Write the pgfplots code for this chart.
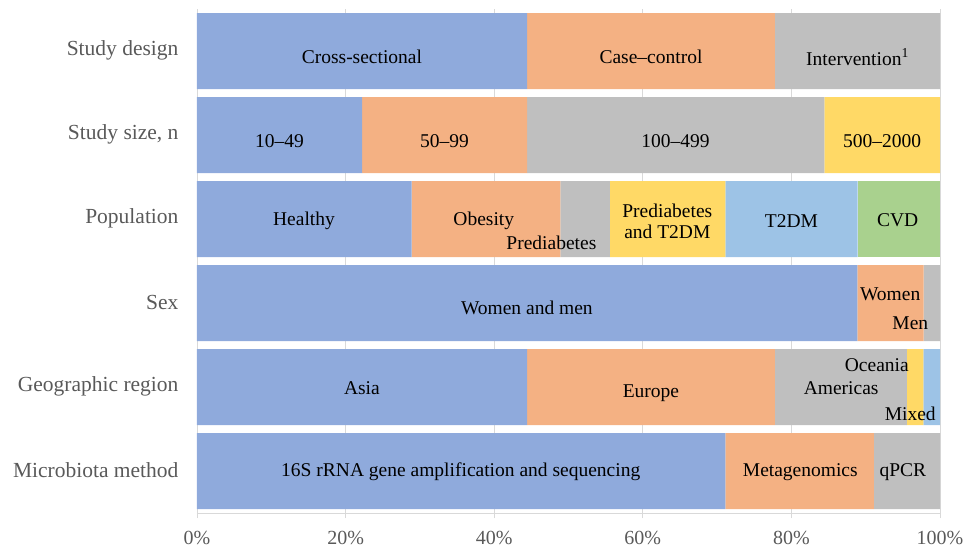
\documentclass[border=0pt]{standalone}
\usepackage{pgfplots}
\pgfplotsset{compat=1.18}
\usepackage{fontspec}
\setmainfont{Liberation Serif}
\definecolor{cBlue}{HTML}{8FAADC}
\definecolor{cOrange}{HTML}{F4B183}
\definecolor{cGray}{HTML}{BFBFBF}
\definecolor{cYellow}{HTML}{FFD966}
\definecolor{cLBlue}{HTML}{9DC3E6}
\definecolor{cGreen}{HTML}{A9D18E}
\definecolor{txtGray}{HTML}{595959}
\definecolor{gridGray}{HTML}{D9D9D9}
\tikzset{lbl/.style={font=\fontsize{19.5}{21}\selectfont, text=black, inner sep=0pt}}
\begin{document}
\begin{tikzpicture}
\begin{axis}[
  scale only axis, width=743pt, height=504pt,
  xbar stacked, bar width=76pt,
  xmin=0, xmax=100, ymin=0.5, ymax=6.5, y dir=reverse,
  ytick={1,2,3,4,5,6},
  yticklabels={Study design,{Study size, n},Population,Sex,Geographic region,Microbiota method},
  xtick={0,20,40,60,80,100},
  /pgf/number format/assume math mode=true,
  xticklabel={\pgfmathprintnumber{\tick}\%},
  axis x line*=bottom, axis y line*=left,
  y axis line style={draw=none},
  x axis line style={draw=gridGray, line width=0.8pt},
  xtick style={draw=gridGray, line width=0.8pt},
  ytick style={draw=none},
  tick align=outside, major tick length=5pt,
  xmajorgrids, grid style={draw=gridGray, line width=0.8pt},
  ticklabel style={text=txtGray},
  yticklabel style={font=\fontsize{21.5}{24}\selectfont, xshift=-10pt, yshift=1pt},
  xticklabel style={font=\fontsize{20}{24}\selectfont, yshift=-10pt},
  clip=false,
  after end axis/.code={
    \node[lbl] at (axis cs:22.2,1.07) {Cross-sectional};
    \node[lbl] at (axis cs:61.1,1.07) {Case--control};
    \node[lbl] at (axis cs:88.9,1.07) {Intervention\textsuperscript{1}};
    \node[lbl] at (axis cs:11.1,2.07) {10--49};
    \node[lbl] at (axis cs:33.3,2.07) {50--99};
    \node[lbl] at (axis cs:64.4,2.07) {100--499};
    \node[lbl] at (axis cs:92.2,2.07) {500--2000};
    \node[lbl] at (axis cs:14.4,3.02) {Healthy};
    \node[lbl] at (axis cs:38.6,3.02) {Obesity};
    \node[lbl] at (axis cs:47.7,3.28) {Prediabetes};
    \node[lbl, align=center] at (axis cs:63.3,3.03) {Prediabetes\\and T2DM};
    \node[lbl] at (axis cs:80.0,3.02) {T2DM};
    \node[lbl] at (axis cs:94.3,3.02) {CVD};
    \node[lbl] at (axis cs:44.4,4.06) {Women and men};
    \node[lbl] at (axis cs:93.3,3.89) {Women};
    \node[lbl] at (axis cs:96.0,4.24) {Men};
    \node[lbl] at (axis cs:22.2,5.01) {Asia};
    \node[lbl] at (axis cs:61.1,5.07) {Europe};
    \node[lbl] at (axis cs:86.7,5.01) {Americas};
    \node[lbl] at (axis cs:91.5,4.74) {Oceania};
    \node[lbl] at (axis cs:96.0,5.32) {Mixed};
    \node[lbl] at (axis cs:35.5,6.01) {16S rRNA gene amplification and sequencing};
    \node[lbl] at (axis cs:81.2,6.01) {Metagenomics};
    \node[lbl] at (axis cs:95.0,6.01) {qPCR};
  },
]
\addplot[fill=cBlue, draw=none] coordinates {(44.44,1) (22.22,2) (28.89,3) (88.89,4) (44.44,5) (71.11,6)};
\addplot[fill=cOrange, draw=none] coordinates {(33.33,1) (22.22,2) (20.00,3) (8.89,4) (33.33,5) (20.00,6)};
\addplot[fill=cGray, draw=none] coordinates {(22.23,1) (40.00,2) (6.67,3) (2.22,4) (17.78,5) (8.89,6)};
\addplot[fill=cYellow, draw=none] coordinates {(0,1) (15.56,2) (15.56,3) (0,4) (2.22,5) (0,6)};
\addplot[fill=cLBlue, draw=none] coordinates {(0,1) (0,2) (17.78,3) (0,4) (2.23,5) (0,6)};
\addplot[fill=cGreen, draw=none] coordinates {(0,1) (0,2) (11.10,3) (0,4) (0,5) (0,6)};
\coordinate (SW) at (axis description cs:0,0);
\end{axis}
\pgfresetboundingbox
\path[use as bounding box] (SW) ++(-197pt,-36pt) rectangle ++(966pt,549pt);
\end{tikzpicture}
\end{document}
